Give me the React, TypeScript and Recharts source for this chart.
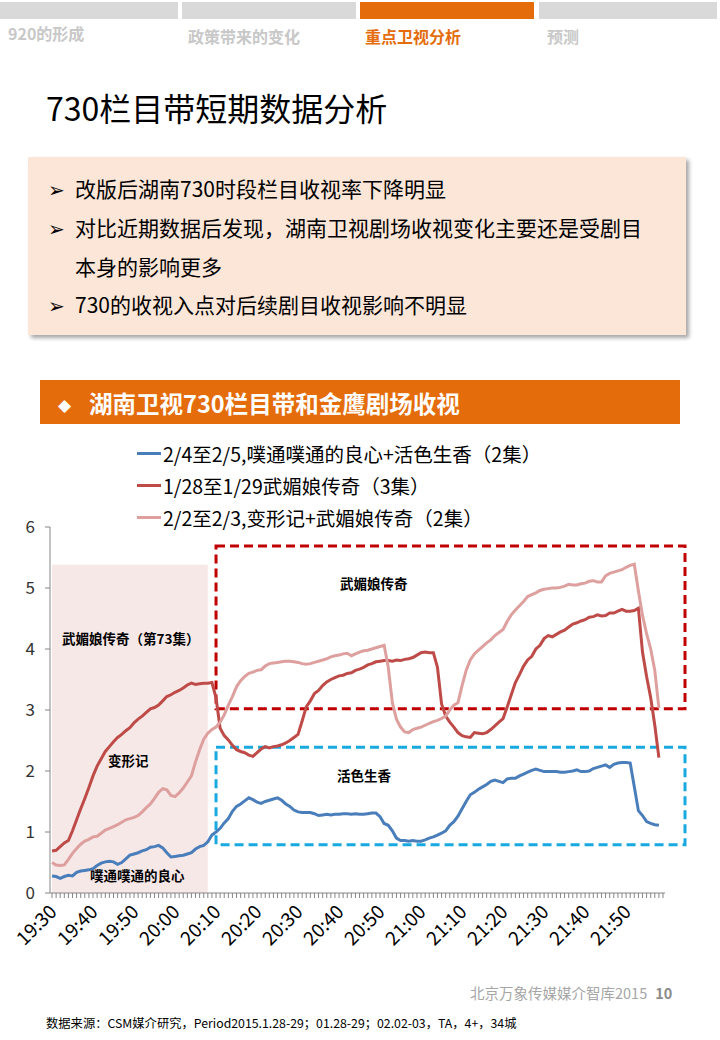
import React from "react";
import { LineChart, Line, XAxis, YAxis, ReferenceArea } from "recharts";

// minute categories 19:30 .. 21:59
const startMinute = 19 * 60 + 30;
const minuteCount = 150;
const times: string[] = Array.from({ length: minuteCount }, (_, i) => {
  const m = startMinute + i;
  return `${Math.floor(m / 60)}:${String(m % 60).padStart(2, "0")}`;
});

const tickLabels = [
  "19:30", "19:40", "19:50", "20:00", "20:10", "20:20", "20:30", "20:40",
  "20:50", "21:00", "21:10", "21:20", "21:30", "21:40", "21:50",
];
const yTicks = [0, 1, 2, 3, 4, 5, 6];

const seriesNames = [
  "2/4至2/5,噗通噗通的良心+活色生香（2集）",
  "1/28至1/29武媚娘传奇（3集）",
  "2/2至2/3,变形记+武媚娘传奇（2集）",
];
const seriesColors = ["#4A7EBB", "#BE4B48", "#DDA09E"];

// 2/4-2/5
const puTong = [
  0.28, 0.27, 0.24, 0.27, 0.29, 0.28, 0.34, 0.36, 0.37, 0.38,
  0.40, 0.45, 0.49, 0.51, 0.52, 0.51, 0.47, 0.50, 0.56, 0.62,
  0.64, 0.66, 0.69, 0.71, 0.75, 0.76, 0.78, 0.74, 0.66, 0.59,
  0.60, 0.61, 0.62, 0.64, 0.66, 0.72, 0.76, 0.78, 0.84, 0.95,
  1.00, 1.06, 1.15, 1.22, 1.34, 1.42, 1.46, 1.51, 1.56, 1.53,
  1.49, 1.47, 1.50, 1.52, 1.54, 1.56, 1.52, 1.46, 1.42, 1.36,
  1.33, 1.32, 1.32, 1.32, 1.30, 1.27, 1.28, 1.29, 1.28, 1.29,
  1.29, 1.30, 1.30, 1.29, 1.30, 1.29, 1.29, 1.30, 1.31, 1.31,
  1.25, 1.14, 1.11, 1.02, 0.90, 0.86, 0.86, 0.85, 0.86, 0.85,
  0.85, 0.87, 0.90, 0.92, 0.95, 0.98, 1.02, 1.11, 1.17, 1.26,
  1.38, 1.50, 1.61, 1.65, 1.70, 1.74, 1.78, 1.83, 1.85, 1.83,
  1.81, 1.87, 1.88, 1.88, 1.92, 1.95, 1.98, 2.01, 2.03, 2.01,
  1.99, 1.99, 1.99, 1.99, 1.98, 1.98, 1.99, 2.00, 2.02, 1.99,
  1.99, 2.00, 2.04, 2.06, 2.08, 2.10, 2.06, 2.11, 2.13, 2.14,
  2.14, 2.13, 1.74, 1.35, 1.27, 1.17, 1.14, 1.12, 1.11,
];

// 1/28-1/29
const wuMeiNiang = [
  0.69, 0.70, 0.76, 0.82, 0.86, 1.02, 1.20, 1.38, 1.55, 1.73,
  1.92, 2.08, 2.20, 2.32, 2.40, 2.48, 2.55, 2.60, 2.66, 2.71,
  2.79, 2.85, 2.90, 2.96, 3.02, 3.04, 3.08, 3.15, 3.22, 3.25,
  3.29, 3.32, 3.36, 3.41, 3.44, 3.42, 3.43, 3.44, 3.44, 3.45,
  3.20, 2.70, 2.58, 2.51, 2.42, 2.35, 2.32, 2.30, 2.26, 2.24,
  2.30, 2.36, 2.40, 2.38, 2.40, 2.41, 2.43, 2.46, 2.50, 2.55,
  2.60, 2.82, 3.05, 3.15, 3.27, 3.32, 3.40, 3.46, 3.50, 3.53,
  3.56, 3.57, 3.60, 3.61, 3.65, 3.67, 3.70, 3.74, 3.76, 3.79,
  3.80, 3.81, 3.81, 3.80, 3.82, 3.81, 3.83, 3.84, 3.86, 3.90,
  3.94, 3.95, 3.94, 3.94, 3.70, 3.10, 2.90, 2.80, 2.72, 2.63,
  2.58, 2.56, 2.55, 2.63, 2.62, 2.61, 2.63, 2.68, 2.74, 2.80,
  2.86, 3.05, 3.25, 3.45, 3.58, 3.72, 3.82, 3.88, 4.00, 4.06,
  4.17, 4.22, 4.20, 4.24, 4.28, 4.31, 4.36, 4.41, 4.43, 4.46,
  4.48, 4.52, 4.53, 4.56, 4.54, 4.55, 4.59, 4.59, 4.62, 4.65,
  4.62, 4.62, 4.63, 4.67, 3.95, 3.55, 3.20, 2.75, 2.22,
];

// 2/2-2/3
const bianXingJi = [
  0.50, 0.46, 0.45, 0.46, 0.55, 0.65, 0.73, 0.80, 0.85, 0.88,
  0.92, 0.93, 0.98, 1.03, 1.06, 1.09, 1.12, 1.16, 1.20, 1.22,
  1.24, 1.27, 1.33, 1.40, 1.46, 1.55, 1.65, 1.71, 1.69, 1.60,
  1.58, 1.64, 1.72, 1.82, 1.92, 2.15, 2.35, 2.52, 2.62, 2.68,
  2.72, 2.80, 2.92, 3.08, 3.22, 3.38, 3.48, 3.55, 3.60, 3.62,
  3.65, 3.66, 3.72, 3.76, 3.77, 3.78, 3.79, 3.80, 3.80, 3.79,
  3.78, 3.76, 3.75, 3.76, 3.78, 3.80, 3.82, 3.84, 3.87, 3.89,
  3.90, 3.92, 3.93, 3.89, 3.92, 3.95, 3.97, 3.98, 4.00, 4.02,
  4.04, 4.06, 3.70, 3.12, 2.85, 2.72, 2.64, 2.63, 2.68, 2.70,
  2.72, 2.75, 2.78, 2.81, 2.83, 2.86, 2.90, 3.00, 3.08, 3.12,
  3.40, 3.65, 3.82, 3.92, 3.98, 4.04, 4.10, 4.15, 4.22, 4.27,
  4.32, 4.45, 4.56, 4.64, 4.71, 4.78, 4.86, 4.89, 4.92, 4.96,
  4.98, 4.99, 5.00, 5.00, 5.01, 5.03, 5.06, 5.05, 5.05, 5.07,
  5.08, 5.11, 5.12, 5.10, 5.10, 5.20, 5.24, 5.26, 5.28, 5.30,
  5.34, 5.37, 5.39, 4.95, 4.55, 4.25, 4.00, 3.65, 3.03,
];

const data = times.map((time, i) => ({
  time,
  a: puTong[i] ?? null,
  b: wuMeiNiang[i] ?? null,
  c: bianXingJi[i] ?? null,
}));

const navItems = ["920的形成", "政策带来的变化", "重点卫视分析", "预测"];
const bullets = [
  "改版后湖南730时段栏目收视率下降明显",
  "对比近期数据后发现，湖南卫视剧场收视变化主要还是受剧目",
  "730的收视入点对后续剧目收视影响不明显",
];

const cjk = '"Noto Sans CJK SC", "Noto Sans", sans-serif';

const TimeTick = (props: any) => {
  const { x, y, payload } = props;
  if (!tickLabels.includes(payload.value)) return <g />;
  const ax = x + 6;
  const ay = y + 13;
  return (
    <text
      x={ax}
      y={ay}
      transform={`rotate(-45, ${ax}, ${ay})`}
      textAnchor="end"
      fontSize={19}
      fontFamily={cjk}
      fill="#000"
    >
      {payload.value}
    </text>
  );
};

const dashedBox = (color: string) => (props: any) => (
  <rect
    x={props.x}
    y={props.y}
    width={props.width + 22}
    height={props.height}
    fill="none"
    stroke={color}
    strokeWidth={3}
    strokeDasharray="9 5"
  />
);

const noteStyle: React.CSSProperties = {
  position: "absolute",
  fontSize: 13.5,
  fontWeight: 700,
  color: "#000",
  whiteSpace: "nowrap",
};

export default function App() {
  return (
    <div
      style={{
        position: "absolute",
        left: 0,
        top: 0,
        width: 720,
        height: 1040,
        background: "#fff",
        overflow: "hidden",
        fontFamily: cjk,
      }}
    >
      {/* nav */}
      {navItems.map((n, i) => (
        <React.Fragment key={n}>
          <div
            style={{
              position: "absolute",
              left: [0, 182, 360, 539][i],
              top: 2,
              width: [178, 174, 174, 178][i],
              height: 17,
              background: i === 2 ? "#E46C0A" : "#D9D9D9",
            }}
          />
          <div
            style={{
              position: "absolute",
              left: [8, 188, 365, 547][i],
              top: i === 0 ? 21 : 24,
              fontSize: 16,
              fontWeight: 700,
              color: i === 2 ? "#E46C0A" : "#C8C8C8",
              whiteSpace: "nowrap",
            }}
          >
            {n}
          </div>
        </React.Fragment>
      ))}

      <div
        style={{
          position: "absolute",
          left: 46,
          top: 84,
          fontSize: 32,
          fontWeight: 400,
          color: "#000",
          whiteSpace: "nowrap",
        }}
      >
        730栏目带短期数据分析
      </div>

      {/* bullet box */}
      <div
        style={{
          position: "absolute",
          left: 28,
          top: 157,
          width: 658,
          height: 178,
          background: "#FCE6D8",
          boxShadow: "3px 3px 4px rgba(0,0,0,0.35)",
        }}
      />
      {[
        { t: bullets[0], y: 175, b: true },
        { t: bullets[1], y: 214, b: true },
        { t: "本身的影响更多", y: 253, b: false },
        { t: bullets[2], y: 291, b: true },
      ].map((r) => (
        <div
          key={r.t}
          style={{
            position: "absolute",
            left: 48,
            top: r.y,
            fontSize: 21,
            color: "#000",
            whiteSpace: "nowrap",
            lineHeight: "26px",
          }}
        >
          <span style={{ display: "inline-block", width: 27, fontFamily: '"DejaVu Sans"', fontSize: 20, fontWeight: 700 }}>
            {r.b ? "➢" : ""}
          </span>
          {r.t}
        </div>
      ))}

      {/* section header */}
      <div
        style={{
          position: "absolute",
          left: 40,
          top: 380,
          width: 640,
          height: 44,
          background: "#E46C0A",
        }}
      />
      <div
        style={{
          position: "absolute",
          left: 58,
          top: 388,
          fontSize: 23.5,
          fontWeight: 700,
          color: "#fff",
          whiteSpace: "nowrap",
          lineHeight: "30px",
        }}
      >
        <span style={{ fontFamily: '"DejaVu Sans"', fontSize: 17, marginRight: 18, position: "relative", top: -2 }}>◆</span>
        湖南卫视730栏目带和金鹰剧场收视
      </div>

      {/* legend */}
      {seriesNames.map((n, i) => (
        <div
          key={n}
          style={{
            position: "absolute",
            left: 137,
            top: 440 + i * 32,
            height: 26,
            display: "flex",
            alignItems: "center",
            whiteSpace: "nowrap",
          }}
        >
          <span style={{ width: 24, height: 3, background: seriesColors[i], display: "inline-block", marginRight: 2 }} />
          <span style={{ fontSize: 19.5, color: "#000" }}>{n}</span>
        </div>
      ))}

      {/* chart */}
      <div style={{ position: "absolute", left: 0, top: 500 }}>
        <LineChart
          width={720}
          height={470}
          data={data}
          margin={{ top: 27, right: 55, bottom: 17, left: 10 }}
        >
          <ReferenceArea
            x1="19:30"
            x2="20:08"
            y1={0}
            y2={5.38}
            fill="#F2DCDB"
            fillOpacity={0.65}
            stroke="none"
          />
          <XAxis
            dataKey="time"
            interval={0}
            padding={{ left: 2, right: 2 }}
            height={60}
            tickSize={5}
            tickMargin={2}
            tickLine={{ stroke: "#868686" }}
            axisLine={{ stroke: "#868686" }}
            tick={<TimeTick />}
          />
          <YAxis
            width={40}
            domain={[0, 6]}
            ticks={yTicks}
            interval={0}
            tickSize={5}
            tickMargin={10}
            tickLine={{ stroke: "#868686" }}
            axisLine={{ stroke: "#868686" }}
            tick={{ fontSize: 17, fill: "#333", fontFamily: cjk }}
          />
          <Line dataKey="a" name={seriesNames[0]} stroke={seriesColors[0]} strokeWidth={3} dot={false} isAnimationActive={false} />
          <Line dataKey="b" name={seriesNames[1]} stroke={seriesColors[1]} strokeWidth={3} dot={false} isAnimationActive={false} />
          <Line dataKey="c" name={seriesNames[2]} stroke={seriesColors[2]} strokeWidth={3} dot={false} isAnimationActive={false} />
          <ReferenceArea
            x1="20:10"
            x2="21:59"
            y1={3.02}
            y2={5.69}
            shape={dashedBox("#C00000")}
          />
          <ReferenceArea
            x1="20:10"
            x2="21:59"
            y1={0.79}
            y2={2.39}
            shape={dashedBox("#18A9E0")}
          />
        </LineChart>
      </div>

      {/* annotations */}
      <div style={{ ...noteStyle, left: 62, top: 628 }}>武媚娘传奇（第73集）</div>
      <div style={{ ...noteStyle, left: 108, top: 750 }}>变形记</div>
      <div style={{ ...noteStyle, left: 90, top: 865 }}>噗通噗通的良心</div>
      <div style={{ ...noteStyle, left: 340, top: 573 }}>武媚娘传奇</div>
      <div style={{ ...noteStyle, left: 337, top: 765 }}>活色生香</div>

      {/* footer */}
      <div
        style={{
          position: "absolute",
          left: 470,
          top: 982,
          fontSize: 14.5,
          color: "#A6A6A6",
          whiteSpace: "nowrap",
        }}
      >
        北京万象传媒媒介智库2015
        <span style={{ marginLeft: 8, fontWeight: 700, color: "#8C8C8C" }}>10</span>
      </div>
      <div
        style={{
          position: "absolute",
          left: 46,
          top: 1014,
          fontSize: 12.3,
          color: "#000",
          whiteSpace: "nowrap",
        }}
      >
        数据来源：CSM媒介研究，Period2015.1.28-29；01.28-29；02.02-03，TA，4+，34城
      </div>
    </div>
  );
}
